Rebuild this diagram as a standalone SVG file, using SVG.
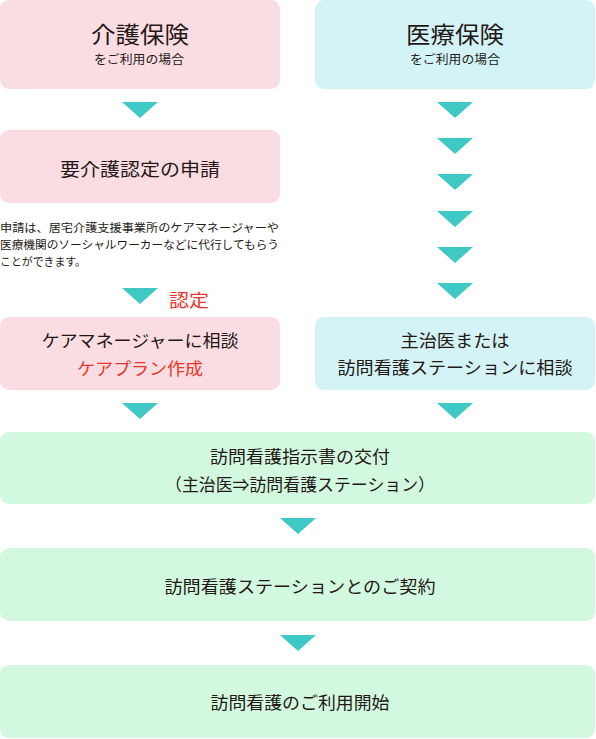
<svg xmlns="http://www.w3.org/2000/svg" width="596" height="739" viewBox="0 0 596 739">
<defs>
<style>
text{font-family:"Noto Sans CJK JP","Noto Sans",sans-serif;fill:#231815;text-anchor:middle}
.pink{fill:#fadde3}
.blue{fill:#d3f3f6}
.green{fill:#d3f8e0}
.arr{fill:#3ec9c4}
.t17{font-size:17px}
.red{fill:#e8352a}
.p{font-size:11.5px;text-anchor:start}
</style>
<polygon id="tri" points="0,0 36,0 18,16"/>
</defs>
<g id="kaigo">
<rect class="pink" x="0" y="0" width="280" height="89" rx="9"/>
<text x="140" y="43" font-size="23" textLength="98" lengthAdjust="spacingAndGlyphs">介護保険</text>
<text x="139" y="64" font-size="12" textLength="90" lengthAdjust="spacingAndGlyphs">をご利用の場合</text>
</g>
<g id="iryo">
<rect class="blue" x="315" y="0" width="280" height="89" rx="9"/>
<text x="455" y="43" font-size="23" textLength="98" lengthAdjust="spacingAndGlyphs">医療保険</text>
<text x="455" y="64" font-size="12" textLength="90" lengthAdjust="spacingAndGlyphs">をご利用の場合</text>
</g>
<g id="shinsei">
<rect class="pink" x="0" y="130" width="280" height="73" rx="9"/>
<text x="140" y="176" font-size="18" textLength="160" lengthAdjust="spacingAndGlyphs">要介護認定の申請</text>
</g>
<g id="note">
<text class="p" x="0" y="232" textLength="279" lengthAdjust="spacingAndGlyphs">申請は、居宅介護支援事業所のケアマネージャーや</text>
<text class="p" x="0" y="249" textLength="279" lengthAdjust="spacingAndGlyphs">医療機関のソーシャルワーカーなどに代行してもらう</text>
<text class="p" x="0" y="266" textLength="86" lengthAdjust="spacingAndGlyphs">ことができます。</text>
</g>
<g id="nintei-label">
<text class="red" x="189" y="307" font-size="18" textLength="40" lengthAdjust="spacingAndGlyphs">認定</text>
</g>
<g id="caremanager">
<rect class="pink" x="0" y="317" width="280" height="73" rx="9"/>
<text class="t17" x="140" y="347" textLength="197" lengthAdjust="spacingAndGlyphs">ケアマネージャーに相談</text>
<text class="t17 red" x="140" y="375" textLength="126" lengthAdjust="spacingAndGlyphs">ケアプラン作成</text>
</g>
<g id="shujii">
<rect class="blue" x="315" y="317" width="280" height="73" rx="9"/>
<text class="t17" x="455" y="347" textLength="109" lengthAdjust="spacingAndGlyphs">主治医または</text>
<text class="t17" x="455" y="374" textLength="235" lengthAdjust="spacingAndGlyphs">訪問看護ステーションに相談</text>
</g>
<g id="shijisho">
<rect class="green" x="0" y="432" width="595" height="72" rx="9"/>
<text class="t17" x="300" y="463" textLength="180" lengthAdjust="spacingAndGlyphs">訪問看護指示書の交付</text>
<text class="t17" x="300" y="491" textLength="270" lengthAdjust="spacingAndGlyphs">（主治医⇒訪問看護ステーション）</text>
</g>
<g id="keiyaku">
<rect class="green" x="0" y="548" width="595" height="73" rx="9"/>
<text class="t17" x="300" y="593" textLength="271" lengthAdjust="spacingAndGlyphs">訪問看護ステーションとのご契約</text>
</g>
<g id="kaishi">
<rect class="green" x="0" y="665" width="595" height="73" rx="9"/>
<text class="t17" x="300" y="709" textLength="179" lengthAdjust="spacingAndGlyphs">訪問看護のご利用開始</text>
</g>
<g id="connectors" class="arr">
<use href="#tri" x="122" y="102"/>
<use href="#tri" x="437" y="102"/>
<use href="#tri" x="437" y="138"/>
<use href="#tri" x="437" y="174"/>
<use href="#tri" x="437" y="211"/>
<use href="#tri" x="437" y="247"/>
<use href="#tri" x="437" y="283"/>
<use href="#tri" x="122" y="288"/>
<use href="#tri" x="122" y="403"/>
<use href="#tri" x="437" y="403"/>
<use href="#tri" x="280" y="518"/>
<use href="#tri" x="280" y="635"/>
</g>
</svg>
